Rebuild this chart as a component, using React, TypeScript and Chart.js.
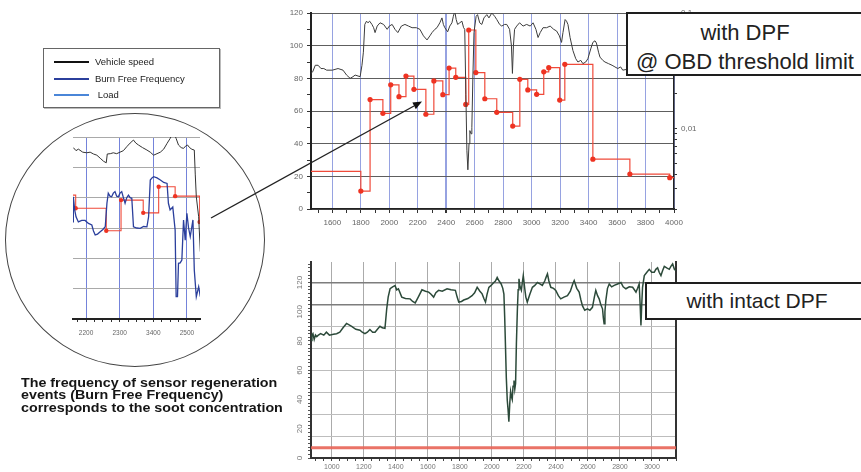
import React, { useEffect, useRef } from 'react';
import { Chart, registerables } from 'chart.js';

Chart.register(...registerables);

const FONT = '"Liberation Sans", Arial, Helvetica, sans-serif';
Chart.defaults.font.family = FONT;

// ---------- Top chart: with DPF @ OBD threshold limit ----------
const topXTicks = [1500, 1600, 1700, 1800, 1900, 2000, 2100, 2200, 2300, 2400, 2500, 2600, 2700, 2800, 2900, 3000, 3100, 3200, 3300, 3400, 3500, 3600, 3700, 3800, 3900, 4000];
const topYTicks = [0, 10, 20, 30, 40, 50, 60, 70, 80, 90, 100, 110, 120];
const topLogTicks = [0.002, 0.003, 0.004, 0.005, 0.006, 0.007, 0.008, 0.009, 0.01, 0.02, 0.03, 0.04, 0.05, 0.06, 0.07, 0.08, 0.09, 0.1];

const topSpeed: [number, number][] = [
  [1450, 83], [1462, 84], [1480, 88], [1500, 88], [1520, 86], [1540, 86], [1560, 85], [1600, 85], [1640, 86], [1675, 85],
  [1700, 82], [1725, 80], [1745, 81], [1760, 82], [1795, 81], [1808, 88], [1818, 96], [1828, 113], [1840, 115], [1850, 114],
  [1862, 115], [1878, 113], [1890, 111], [1900, 108], [1915, 112], [1935, 114], [1960, 113], [1985, 110], [2000, 112], [2020, 113],
  [2040, 110], [2060, 108], [2085, 112], [2110, 113], [2135, 112], [2160, 111], [2190, 111], [2215, 110], [2240, 106], [2265, 103.5],
  [2285, 106], [2300, 108], [2320, 110], [2335, 111], [2355, 114], [2370, 117], [2380, 113], [2390, 111], [2410, 108.5], [2425, 112],
  [2440, 114], [2450, 118], [2460, 121], [2470, 116], [2480, 113], [2495, 114], [2510, 115], [2522, 111], [2530, 110], [2538, 70],
  [2545, 36], [2552, 24], [2560, 40], [2566, 48], [2575, 46], [2580, 50], [2587, 80], [2595, 108], [2610, 118], [2620, 119],
  [2635, 114], [2650, 113], [2665, 117], [2685, 119], [2700, 117], [2720, 120], [2740, 118], [2755, 116], [2775, 113], [2790, 112],
  [2810, 113], [2825, 113], [2845, 110], [2858, 100], [2865, 83], [2872, 100], [2880, 110], [2895, 112], [2915, 114], [2940, 112],
  [2965, 113], [2990, 112], [3010, 114], [3030, 110], [3045, 105], [3060, 108], [3080, 111], [3105, 111], [3130, 112], [3155, 110],
  [3175, 109], [3195, 106], [3210, 102], [3220, 108], [3235, 116], [3245, 115], [3255, 113], [3270, 105], [3290, 97], [3310, 92],
  [3325, 90], [3345, 91], [3360, 89], [3380, 90], [3395, 92], [3415, 98], [3430, 102], [3445, 103], [3455, 101.6], [3470, 96],
  [3480, 93], [3500, 91], [3515, 90], [3540, 89], [3565, 88], [3585, 87], [3605, 86], [3625, 87], [3640, 85], [3700, 86],
  [3800, 85], [3900, 86], [4000, 85],
];

const topBff: [number, number][] = [
  [1450, 23], [1800, 11], [1865, 67], [1955, 58.6], [2010, 76], [2068, 68.8], [2117, 81.4], [2173, 73.3], [2257, 58], [2313, 78.4],
  [2376, 70], [2420, 86.3], [2467, 80.6], [2537, 64], [2558, 109.6], [2608, 83.5], [2671, 67.5], [2755, 59.2], [2867, 50.8], [2917, 79.4],
  [2973, 72.9], [3035, 70.2], [3085, 84], [3120, 86.5], [3197, 66.7], [3233, 88.6], [3430, 30.5], [3690, 21.4], [3970, 19.2], [4000, 19.2],
];

// ---------- Bottom chart: with intact DPF ----------
const botXTicks = [900, 950, 1000, 1050, 1100, 1150, 1200, 1250, 1300, 1350, 1400, 1450, 1500, 1550, 1600, 1650, 1700, 1750, 1800, 1850, 1900, 1950, 2000, 2050, 2100, 2150, 2200, 2250, 2300, 2350, 2400, 2450, 2500, 2550, 2600, 2650, 2700, 2750, 2800, 2850, 2900, 2950, 3000, 3050, 3100, 3150];
const botGridY = [0, 15, 30, 45, 60, 75, 90, 105, 120];
const botLabelY = [0, 2.5, 5, 7.5, 10, 12.5, 15, 17.5, 20, 22.5, 25, 27.5, 30, 32.5, 35, 37.5, 40, 42.5, 45, 47.5, 50, 52.5, 55, 57.5, 60, 62.5, 65, 67.5, 70, 72.5, 75, 77.5, 80, 82.5, 85, 87.5, 90, 92.5, 95, 97.5, 100, 102.5, 105, 107.5, 110, 112.5, 115, 117.5, 120, 122.5, 125, 127.5, 130, 132.5];

const botSpeed: [number, number][] = [
  [870, 80.4], [876, 84], [882, 85], [890, 81], [898, 84], [906, 83], [914, 83.8], [930, 85], [950, 84], [966, 86],
  [985, 84], [1010, 84.6], [1030, 85], [1050, 86], [1070, 89], [1092, 92], [1108, 91], [1124, 90], [1150, 88], [1176, 87.4],
  [1190, 86], [1207, 85], [1222, 86], [1238, 87.8], [1255, 86], [1270, 86], [1285, 88], [1301, 90], [1315, 89], [1332, 88.6],
  [1343, 102], [1352, 110], [1364, 115.7], [1380, 117], [1395, 117.9], [1405, 115], [1416, 115.7], [1437, 110], [1460, 109], [1489, 108.8],
  [1505, 107], [1521, 106], [1540, 110], [1563, 115], [1585, 114], [1605, 113.4], [1620, 112], [1636, 110], [1650, 113], [1667, 114.6],
  [1690, 114], [1720, 115.7], [1745, 115], [1772, 114.6], [1783, 110], [1793, 106.6], [1810, 107], [1824, 108], [1850, 109], [1876, 111],
  [1892, 113], [1908, 116.7], [1925, 114], [1939, 112.2], [1950, 109], [1960, 106.6], [1970, 112], [1981, 116.7], [1995, 118], [2012, 120],
  [2022, 121], [2033, 123.5], [2045, 121], [2058, 119], [2068, 116], [2075, 112], [2080, 96], [2085, 75.9], [2090, 55], [2096, 39.5],
  [2101, 33], [2106, 24.8], [2112, 38], [2117, 45.4], [2122, 42], [2127, 40], [2132, 49], [2138, 53], [2143, 47], [2148, 50.9],
  [2153, 78], [2159, 100.9], [2164, 115], [2169, 122.5], [2176, 117], [2184, 114.6], [2190, 120], [2196, 124.7], [2205, 116], [2212, 110],
  [2221, 106.6], [2237, 112], [2253, 116.7], [2268, 118], [2284, 120], [2300, 119], [2315, 118], [2330, 121], [2340, 124], [2347, 125.9],
  [2356, 121], [2368, 116.7], [2385, 116], [2399, 114.6], [2415, 111], [2430, 108.8], [2450, 110], [2472, 111], [2490, 114], [2505, 119],
  [2514, 121.3], [2530, 116], [2545, 113.4], [2556, 108], [2566, 104], [2580, 101], [2597, 102], [2612, 101], [2628, 103], [2640, 110],
  [2649, 114.6], [2660, 111], [2670, 108.8], [2680, 105], [2691, 102], [2696, 96], [2701, 91.8], [2706, 100], [2712, 108], [2722, 116],
  [2733, 119], [2748, 117], [2764, 118], [2785, 119], [2806, 120], [2820, 117], [2837, 115.7], [2858, 117], [2879, 116.7], [2890, 115],
  [2900, 113.4], [2910, 116], [2920, 119], [2926, 105], [2931, 90.6], [2936, 105], [2941, 116.7], [2952, 124.7], [2968, 127], [2983, 129],
  [2998, 127], [3014, 127], [3024, 129], [3035, 130], [3045, 127], [3056, 124.7], [3066, 128], [3077, 131], [3092, 130], [3108, 129],
  [3118, 131], [3129, 132.7], [3140, 129], [3150, 128],
];
const botLimit: [number, number][] = [[870, 7], [3150, 7]];

// ---------- Inset (magnifier) chart ----------
const insetXTicks = [2175, 2200, 2225, 2250, 2275, 2300, 2325, 2350, 2375, 2400, 2425, 2450, 2475, 2500, 2525];
const insetXLabels: Record<number, string> = { 2200: '2200', 2300: '2300', 2400: '3400', 2500: '2500' };
const insetYTicks = [0, 20, 40, 60, 80, 100, 120];

const insetSpeed: [number, number][] = [
  [2162, 113], [2170, 111], [2177, 112], [2190, 110], [2202, 109.6], [2212, 110], [2222, 108.8], [2232, 108], [2242, 106], [2252, 104],
  [2260, 103], [2263, 108.8], [2272, 109], [2281, 109.6], [2291, 109], [2301, 110], [2311, 111], [2321, 113.6], [2331, 116], [2341, 118],
  [2348, 116], [2356, 114.7], [2368, 113], [2381, 111.4], [2391, 110], [2401, 108], [2411, 109], [2421, 110], [2431, 112], [2441, 115.8],
  [2450, 119], [2460, 123.5], [2468, 119], [2475, 114.7], [2483, 113], [2490, 112.5], [2496, 114], [2502, 114.7], [2508, 113], [2515, 111.9],
  [2522, 111.4], [2525, 95], [2528, 80.6], [2535, 67.4], [2540, 44.4],
];
const insetBff: [number, number][] = [
  [2161, 64], [2162, 80.6], [2166, 72], [2170, 67.4], [2177, 64], [2187, 65], [2197, 65], [2207, 63], [2217, 62], [2222, 58],
  [2227, 55.4], [2234, 56], [2242, 57.5], [2250, 59], [2257, 60.8], [2262, 76.3], [2266, 82.9], [2271, 81], [2276, 80.6], [2281, 83],
  [2286, 84], [2291, 81], [2296, 80.6], [2301, 83], [2306, 84], [2311, 80], [2316, 76.3], [2321, 80], [2326, 81.7], [2331, 80],
  [2336, 79.6], [2341, 60.8], [2351, 60], [2361, 59.8], [2371, 61], [2381, 60.8], [2386, 67.4], [2391, 91.6], [2396, 93], [2401, 93.8],
  [2411, 93], [2421, 91.6], [2431, 90], [2441, 89.4], [2445, 76.3], [2450, 71.9], [2458, 73.8], [2465, 58.7], [2468, 14.7], [2472, 14.7],
  [2475, 36.7], [2480, 37], [2485, 38.9], [2490, 65.3], [2495, 52], [2500, 69.7], [2505, 60], [2510, 54.3], [2518, 65.3], [2522, 32.3],
  [2528, 14.7], [2535, 21.3], [2540, 14.7],
];
const insetRed: [number, number][] = [
  [2161, 81.7], [2169, 73], [2260, 58.2], [2304, 78.4], [2370, 70], [2416, 87.2], [2465, 81], [2538, 64],
];

const legendItems = [
  { label: 'Vehicle speed', color: '#111111' },
  { label: 'Burn Free Frequency', color: '#2b3f9c' },
  { label: ' Load', color: '#4a86d8' },
];

// ---------- helpers ----------
const pts = (arr: [number, number][]) => arr.map(([x, y]) => ({ x, y }));
const setTicks = (vals: number[]) => (scale: any) => {
  scale.ticks = vals.map((v) => ({ value: v }));
};
const near = (a: number, b: number) => Math.abs(a - b) < 1e-9;

function ChartCanvas(props: { left: number; top: number; width: number; height: number; build: () => any }) {
  const ref = useRef<HTMLCanvasElement>(null);
  useEffect(() => {
    const chart = new Chart(ref.current as HTMLCanvasElement, props.build());
    return () => chart.destroy();
  }, []);
  return (
    <canvas
      ref={ref}
      width={props.width}
      height={props.height}
      style={{ position: 'absolute', left: props.left, top: props.top, width: props.width, height: props.height }}
    />
  );
}

const BLUE_GRID = 'rgba(80,100,205,0.6)';

const buildTop = () => ({
  type: 'line',
  data: {
    datasets: [
      {
        label: 'Vehicle speed',
        data: pts(topSpeed),
        borderColor: '#3c3c3c',
        borderWidth: 1,
        pointRadius: 0,
        yAxisID: 'y',
      },
      {
        label: 'Burn Free Frequency',
        data: pts(topBff),
        stepped: true,
        borderColor: '#f04a3a',
        borderWidth: 1.2,
        pointRadius: (ctx: any) => (ctx.dataIndex === 0 || ctx.dataIndex === topBff.length - 1 ? 0 : 2.6),
        pointBackgroundColor: '#ee3322',
        pointBorderWidth: 0,
        yAxisID: 'y',
      },
    ],
  },
  options: {
    animation: false,
    responsive: false,
    devicePixelRatio: 1,
    layout: { padding: { top: 13, left: 0, right: 0, bottom: 0 } },
    plugins: { legend: { display: false }, tooltip: { enabled: false } },
    scales: {
      x: {
        type: 'linear',
        min: 1450,
        max: 4000,
        afterBuildTicks: setTicks(topXTicks),
        afterFit: (s: any) => { s.height = 31; },
        grid: {
          color: (c: any) => (c.tick && c.tick.value % 200 === 0 ? BLUE_GRID : 'rgba(0,0,0,0)'),
          lineWidth: (c: any) => (c.tick && c.tick.value === 2400 ? 2 : 1),
          tickColor: '#333',
          tickLength: 4,
        },
        border: { color: '#222', width: 1.5 },
        ticks: {
          autoSkip: false,
          maxRotation: 0,
          minRotation: 0,
          padding: 5,
          color: '#666',
          font: { size: 8 },
          callback: (v: number) => (v % 200 === 0 ? String(v) : ''),
        },
      },
      y: {
        type: 'linear',
        position: 'left',
        min: 0,
        max: 120,
        afterBuildTicks: setTicks(topYTicks),
        afterFit: (s: any) => { s.width = 61; },
        grid: {
          color: (c: any) => (c.tick && c.tick.value % 20 === 0 ? '#5e5e5e' : 'rgba(0,0,0,0)'),
          tickColor: '#333',
          tickLength: 4,
        },
        border: { color: '#222', width: 2 },
        ticks: {
          autoSkip: false,
          padding: 4,
          color: '#666',
          font: { size: 8 },
          callback: (v: number) => (v % 20 === 0 ? String(v) : ''),
        },
      },
      yR: {
        type: 'logarithmic',
        position: 'right',
        min: 0.002,
        max: 0.1,
        afterBuildTicks: setTicks(topLogTicks),
        afterFit: (s: any) => { s.width = 36; },
        grid: { drawOnChartArea: false, tickColor: '#333', tickLength: 3 },
        border: { color: '#222', width: 1.5 },
        ticks: {
          autoSkip: false,
          padding: 4,
          color: '#666',
          font: { size: 8 },
          callback: (v: number) => (near(v, 0.01) ? '0,01' : near(v, 0.1) ? '0,1' : ''),
        },
      },
    },
  },
});

const buildBottom = () => ({
  type: 'line',
  data: {
    datasets: [
      {
        label: 'Vehicle speed',
        data: pts(botSpeed),
        borderColor: '#2c4a3a',
        borderWidth: 1.5,
        pointRadius: 0,
        yAxisID: 'y',
      },
      {
        label: 'Limit',
        data: pts(botLimit),
        borderColor: 'rgba(232,100,86,0.9)',
        borderWidth: 3,
        pointRadius: 0,
        yAxisID: 'y',
      },
    ],
  },
  options: {
    animation: false,
    responsive: false,
    devicePixelRatio: 1,
    layout: { padding: { top: 12, left: 0, right: 0, bottom: 0 } },
    plugins: { legend: { display: false }, tooltip: { enabled: false } },
    scales: {
      x: {
        type: 'linear',
        min: 870,
        max: 3150,
        afterBuildTicks: setTicks(botXTicks),
        afterFit: (s: any) => { s.height = 14; },
        grid: {
          color: (c: any) => (c.tick && c.tick.value % 200 === 0 ? '#ababab' : 'rgba(0,0,0,0)'),
          tickColor: '#444',
          tickLength: 3,
        },
        border: { color: '#333', width: 2 },
        ticks: {
          autoSkip: false,
          maxRotation: 0,
          minRotation: 0,
          padding: 2,
          color: '#777',
          font: { size: 7 },
          callback: (v: number) => (v % 200 === 0 ? String(v) : ''),
        },
      },
      y: {
        type: 'linear',
        position: 'left',
        min: 0,
        max: 134,
        weight: 1,
        afterBuildTicks: setTicks(botLabelY),
        afterFit: (s: any) => { s.width = 61; },
        grid: { drawOnChartArea: false, tickColor: '#555', tickLength: 3 },
        border: { color: '#333', width: 2 },
        ticks: {
          autoSkip: false,
          minRotation: 90,
          maxRotation: 90,
          crossAlign: 'center',
          padding: 2,
          color: '#777',
          font: { size: 8 },
          callback: (v: number) => (v % 20 === 0 ? String(v) : ''),
        },
      },
      yGrid: {
        type: 'linear',
        position: 'left',
        min: 0,
        max: 134,
        weight: 0,
        afterBuildTicks: setTicks(botGridY),
        afterFit: (s: any) => { s.width = 0; },
        grid: {
          color: (c: any) => (c.tick && (c.tick.value === 120 || c.tick.value === 105) ? '#7d7d7d' : '#bdbdbd'),
          lineWidth: (c: any) => (c.tick && (c.tick.value === 120 || c.tick.value === 105) ? 1.5 : 1),
          drawTicks: false,
        },
        border: { display: false },
        ticks: { display: false },
      },
      yRight: {
        type: 'linear',
        position: 'right',
        min: 0,
        max: 134,
        afterFit: (s: any) => { s.width = 34; },
        grid: { drawOnChartArea: false, drawTicks: false },
        border: { color: '#333', width: 2 },
        ticks: { display: false },
      },
    },
  },
});

const buildInset = () => ({
  type: 'line',
  data: {
    datasets: [
      {
        label: 'Vehicle speed',
        data: pts(insetSpeed),
        borderColor: '#333',
        borderWidth: 1,
        pointRadius: 0,
      },
      {
        label: 'Burn Free Frequency',
        data: pts(insetBff),
        borderColor: '#2b3f9c',
        borderWidth: 1.3,
        pointRadius: 0,
      },
      {
        label: 'BFF step',
        data: pts(insetRed),
        stepped: true,
        borderColor: '#f04a3a',
        borderWidth: 1.1,
        pointRadius: (ctx: any) => (ctx.dataIndex === 0 ? 0 : 2.2),
        pointBackgroundColor: '#ee3322',
        pointBorderWidth: 0,
      },
    ],
  },
  options: {
    animation: false,
    responsive: false,
    devicePixelRatio: 1,
    layout: { padding: { top: 12, left: 0, right: 10, bottom: 0 } },
    plugins: { legend: { display: false }, tooltip: { enabled: false } },
    scales: {
      x: {
        type: 'linear',
        min: 2161,
        max: 2539,
        afterBuildTicks: setTicks(insetXTicks),
        afterFit: (s: any) => { s.height = 21; },
        grid: {
          color: (c: any) => (c.tick && c.tick.value % 100 === 0 ? 'rgba(70,90,205,0.75)' : 'rgba(0,0,0,0)'),
          tickColor: '#333',
          tickLength: 3,
        },
        border: { color: '#222', width: 2 },
        ticks: {
          autoSkip: false,
          maxRotation: 0,
          minRotation: 0,
          padding: 7,
          color: '#666',
          font: { size: 6.5 },
          callback: (v: number) => insetXLabels[v] || '',
        },
      },
      y: {
        type: 'linear',
        min: 0,
        max: 120,
        afterBuildTicks: setTicks(insetYTicks),
        afterFit: (s: any) => { s.width = 13; },
        grid: { color: '#a9a9a9', drawTicks: false },
        border: { display: false },
        ticks: { display: false },
      },
    },
  },
});

export default function App() {
  const boxText: React.CSSProperties = { color: '#222', fontFamily: FONT, textAlign: 'center', whiteSpace: 'nowrap' };
  return (
    <div
      style={{
        position: 'absolute',
        left: 0,
        top: 0,
        width: 861,
        height: 472,
        overflow: 'hidden',
        background: '#fff',
        fontFamily: FONT,
      }}
    >
      <ChartCanvas left={250} top={0} width={460} height={240} build={buildTop} />
      <ChartCanvas left={250} top={250} width={460} height={222} build={buildBottom} />

      {/* magnifier circle */}
      <div
        style={{
          position: 'absolute',
          left: 5,
          top: 113,
          width: 260,
          height: 254,
          border: '1px solid #444',
          borderRadius: '50%',
          boxSizing: 'border-box',
        }}
      />
      <ChartCanvas left={60} top={125} width={150} height={215} build={buildInset} />

      {/* legend */}
      <div
        style={{
          position: 'absolute',
          left: 43,
          top: 48,
          width: 177,
          height: 60,
          border: '1px solid #666',
          boxSizing: 'border-box',
          background: '#fff',
          boxShadow: '1px 1px 0 #bbb',
        }}
      >
        {legendItems.map((it, i) => (
          <div key={i} style={{ position: 'absolute', left: 0, top: 7 + i * 16.5, height: 12, width: 175 }}>
            <div style={{ position: 'absolute', left: 10, top: 5, width: 35, height: 2, background: it.color }} />
            <div
              style={{
                position: 'absolute',
                left: 51,
                top: 0,
                fontSize: 9.5,
                lineHeight: '12px',
                color: '#222',
                whiteSpace: 'pre',
              }}
            >
              {it.label}
            </div>
          </div>
        ))}
      </div>

      {/* arrow from inset to top chart */}
      <svg width={861} height={472} style={{ position: 'absolute', left: 0, top: 0, pointerEvents: 'none' }}>
        <line x1={211} y1={218} x2={414} y2={106} stroke="#222" strokeWidth={1.3} />
        <polygon points="422,101.5 415.8,109.2 412.4,102.6" fill="#111" />
      </svg>

      {/* label boxes */}
      <div
        style={{
          position: 'absolute',
          left: 626,
          top: 12,
          width: 238,
          height: 64,
          border: '2px solid #1e1e1e',
          boxSizing: 'border-box',
          background: '#fff',
          paddingTop: 4,
          fontSize: 22,
          lineHeight: '29px',
          ...boxText,
        }}
      >
        <div>with DPF</div>
        <div>@ OBD threshold limit</div>
      </div>
      <div
        style={{
          position: 'absolute',
          left: 645,
          top: 282,
          width: 224,
          height: 38,
          border: '2px solid #1e1e1e',
          boxSizing: 'border-box',
          background: '#fff',
          fontSize: 21,
          lineHeight: '34px',
          ...boxText,
        }}
      >
        with intact DPF
      </div>

      {/* caption */}
      <div
        style={{
          position: 'absolute',
          left: 21,
          top: 377,
          fontSize: 12,
          lineHeight: '12.3px',
          fontWeight: 'bold',
          color: '#151515',
          whiteSpace: 'nowrap',
          transform: 'scaleX(1.19)',
          transformOrigin: 'left top',
        }}
      >
        <div>The frequency of sensor regeneration</div>
        <div>events (Burn Free Frequency)</div>
        <div>corresponds to the soot concentration</div>
      </div>
    </div>
  );
}
